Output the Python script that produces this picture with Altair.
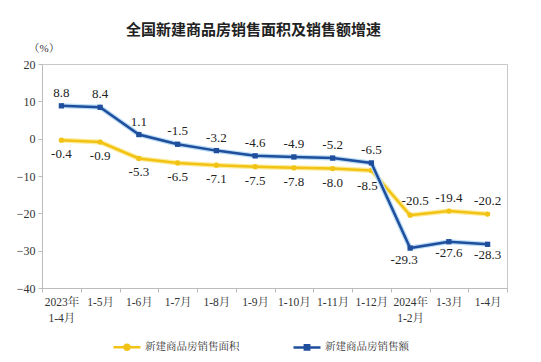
import altair as alt
import pandas as pd

categories = ["2023年\n1-4月", "1-5月", "1-6月", "1-7月", "1-8月", "1-9月",
              "1-10月", "1-11月", "1-12月", "2024年\n1-2月", "1-3月", "1-4月"]
area_growth = [-0.4, -0.9, -5.3, -6.5, -7.1, -7.5, -7.8, -8.0, -8.5, -20.5, -19.4, -20.2]
sales_growth = [8.8, 8.4, 1.1, -1.5, -3.2, -4.6, -4.9, -5.2, -6.5, -29.3, -27.6, -28.3]
series_names = ["新建商品房销售面积", "新建商品房销售额"]

rows = []
for i, c in enumerate(categories):
    rows.append({"cat": c, "i": i, "series": series_names[0], "v": area_growth[i], "lab": f"{area_growth[i]:.1f}"})
    rows.append({"cat": c, "i": i, "series": series_names[1], "v": sales_growth[i], "lab": f"{sales_growth[i]:.1f}"})
df = pd.DataFrame(rows)

BLUE = "#1f4e9c"
BLUE_GLOW = "#b9dcf5"
YEL = "#f2c314"
YEL_GLOW = "#fcec9e"
NUM = "Liberation Serif"
SERIF = "Liberation Serif, Noto Serif CJK SC, Noto Sans CJK SC"

x = alt.X("cat:N", sort=categories,
          scale=alt.Scale(type="band", paddingInner=0, paddingOuter=0),
          axis=alt.Axis(title=None, labelAngle=0, tickBand="extent", labelExpr="split(datum.label, '\\n')",
                        labelFont=SERIF, labelFontSize=11.5, labelColor="#333", labelPadding=4,
                        domainColor="#bbb", tickColor="#bbb", tickSize=4, labelLineHeight=16))
y = alt.Y("v:Q", scale=alt.Scale(domain=[-40, 20], nice=False),
          axis=alt.Axis(title="（%）", titleAngle=0, titleAlign="left", titleBaseline="middle",
                        titleX=-14, titleY=-16, titleFont=SERIF, titleFontSize=11, titleFontWeight="normal",
                        titleColor="#333", values=[-40, -30, -20, -10, 0, 10, 20], grid=False,
                        labelFont=NUM, labelFontSize=12, labelColor="#333", labelPadding=3,
                        domainColor="#bbb", tickColor="#bbb", tickSize=4))

base = alt.Chart(df).encode(x=x, y=y)
blue = base.transform_filter(alt.datum.series == series_names[1])
yel = base.transform_filter(alt.datum.series == series_names[0])

layers = [
    yel.mark_line(color=YEL_GLOW, strokeWidth=5),
    yel.mark_line(color=YEL, strokeWidth=2.5),
    yel.mark_point(shape="circle", filled=True, color=YEL, size=28, opacity=1),
    blue.mark_line(color=BLUE_GLOW, strokeWidth=5),
    blue.mark_line(color=BLUE, strokeWidth=2.5),
    blue.mark_point(shape="square", filled=True, color=BLUE, size=28, opacity=1),
]

tk = dict(font=NUM, fontSize=13, color="#222")
# value labels
layers += [
    blue.transform_filter(alt.datum.i < 9).mark_text(dy=-13, **tk).encode(text="lab:N"),
    blue.transform_filter(alt.datum.i == 9).mark_text(dy=12, dx=-6, **tk).encode(text="lab:N"),
    blue.transform_filter(alt.datum.i > 9).mark_text(dy=11, **tk).encode(text="lab:N"),
    yel.transform_filter(alt.datum.i < 8).mark_text(dy=14, **tk).encode(text="lab:N"),
    yel.transform_filter(alt.datum.i == 8).mark_text(dy=16, dx=-4, **tk).encode(text="lab:N"),
    yel.transform_filter(alt.datum.i == 9).mark_text(dy=-14, dx=5, **tk).encode(text="lab:N"),
    yel.transform_filter(alt.datum.i > 9).mark_text(dy=-13, **tk).encode(text="lab:N"),
]

leg = alt.Legend(title=None, orient="none", legendX=70, legendY=268, direction="horizontal",
                 labelFont=SERIF, labelFontSize=10.5, labelColor="#333", symbolOpacity=1,
                 symbolStrokeWidth=2.5, symbolSize=729, columnPadding=48, labelOffset=3,
                 symbolFillColor="transparent")
shapes = ["M-1,0H1M0.18,0A0.18,0.18,0,1,1,-0.18,0A0.18,0.18,0,1,1,0.18,0Z",
          "M-1,0H1M-0.16,-0.16H0.16V0.16H-0.16Z"]
legend_layer = base.mark_point(filled=False, opacity=0).encode(
    color=alt.Color("series:N", scale=alt.Scale(domain=series_names, range=[YEL, BLUE]), legend=leg),
    shape=alt.Shape("series:N", scale=alt.Scale(domain=series_names, range=shapes), legend=leg),
)
layers.append(legend_layer)

chart = alt.layer(*layers).properties(
    width=465, height=224,
    title=alt.TitleParams("全国新建商品房销售面积及销售额增速", font="Noto Sans CJK SC", fontSize=15,
                          fontWeight="bold", color="#222", anchor="middle", dx=-21, offset=4),
    autosize=alt.AutoSizeParams(type="none"),
    padding={"left": 34, "top": 56, "right": 26, "bottom": 66},
).configure_view(stroke="#c8c8c8", strokeWidth=1)

chart.save("out.html", embed_options={"renderer": "svg", "actions": False})
